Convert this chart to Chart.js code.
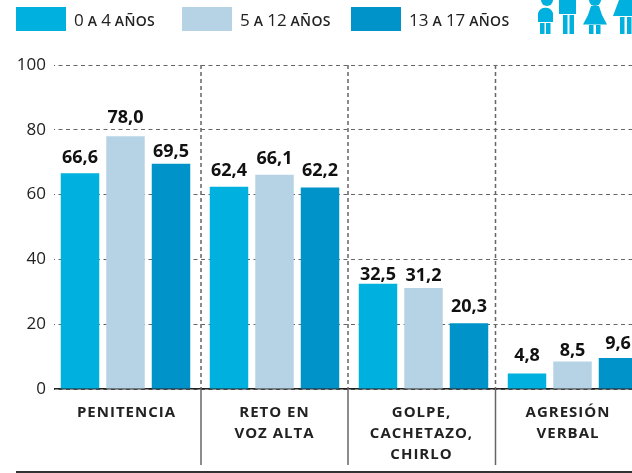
<!DOCTYPE html>
<html lang="es">
<head>
<meta charset="utf-8">
<title>Métodos de disciplina por edad</title>
<script src="https://cdn.jsdelivr.net/npm/chart.js@4"></script>
<style>
  html, body { margin: 0; padding: 0; width: 632px; height: 473px; overflow: hidden; background: #fff; }
  #wrap { position: relative; width: 632px; height: 473px; overflow: hidden; }
  canvas { position: absolute; left: 0; top: 0; }
  .swatch { position: absolute; top: 7px; width: 50px; height: 24px; }
  .legend-text { position: absolute; top: 8px; font: 400 17px "Open Sans", sans-serif; color: #222; white-space: nowrap; }
  .legend-text span { font-size: 14px; font-weight: 600; text-transform: uppercase; letter-spacing: 0.3px; }
  #icons { position: absolute; left: 530px; top: 0; }
  #rule { position: absolute; left: 16px; top: 471px; width: 616px; height: 2px; background: #333; }
</style>
</head>
<body>
<div id="wrap">
  <canvas id="chart" width="647" height="473"></canvas>
  <div id="legend"></div>
  <svg id="icons" width="102" height="34" fill="#00b0de">
    <circle cx="17" cy="0" r="6"/>
    <path d="M8 13a8 8 0 0 1 15 0v9H8z"/>
    <rect x="10" y="23" width="4.5" height="11"/><rect x="16" y="23" width="4.5" height="11"/>
    <rect x="29" y="0" width="17" height="14"/>
    <rect x="33" y="15" width="4.5" height="19"/><rect x="39.5" y="15" width="4.5" height="19"/>
    <circle cx="65" cy="0" r="6"/>
    <path d="M61 6h8l3 9 5 9.500H53l5-9.500z"/>
    <rect x="59" y="25" width="4.500" height="9"/><rect x="66" y="25" width="4.500" height="9"/>
    <path d="M89 0h13v16H83z"/>
    <rect x="90" y="17" width="4.500" height="17"/><rect x="97" y="17" width="4.500" height="17"/>
  </svg>
  <div id="rule"></div>
</div>
<script>
const categories = ["PENITENCIA", ["RETO EN", "VOZ ALTA"], ["GOLPE,", "CACHETAZO,", "CHIRLO"], ["AGRESIÓN", "VERBAL"]];
const seriesNames = ["0 a 4 años", "5 a 12 años", "13 a 17 años"];
const edad0a4 = [66.6, 62.4, 32.5, 4.8];
const edad5a12 = [78.0, 66.1, 31.2, 8.5];
const edad13a17 = [69.5, 62.2, 20.3, 9.6];
const colors = ["#00b0de", "#b5d3e5", "#0093c9"];

// leyenda arriba: numeros grandes y letras en versalitas, no se puede con la de Chart.js
const legendEl = document.getElementById("legend");
const swatchX = [16, 182, 351];
seriesNames.forEach((name, i) => {
  const sw = document.createElement("div");
  sw.className = "swatch";
  sw.style.left = swatchX[i] + "px";
  sw.style.background = colors[i];
  legendEl.appendChild(sw);
  const txt = document.createElement("div");
  txt.className = "legend-text";
  txt.style.left = (swatchX[i] + 58) + "px";
  name.split(/(\d+)/).forEach(part => {
    if (/\d/.test(part) || part.trim() === "") {
      txt.appendChild(document.createTextNode(part));
    } else {
      const sp = document.createElement("span");
      sp.textContent = part;
      txt.appendChild(sp);
    }
  });
  legendEl.appendChild(txt);
});

// en el original las etiquetas estan puestas a mano, cada una con su separacion
const labelGaps = [[10, 11, 3.5, 12], [13, 11, 7, 5], [7, 11, 11, 9]];
// separadores y rotulos no caen justo en el centro de cada grupo
const sepNudge = [1, -1, -2.5];
const tickNudge = [1, 0, -2, -4.5];

const chartExtras = {
  id: "chartExtras",
  beforeDraw(chart) {
    chart.scales.x.getLabelItems().forEach((item, i) => {
      item.options.translation[0] += tickNudge[i];
    });
  },
  beforeDatasetsDraw(chart) {
    const { ctx, chartArea, scales } = chart;
    ctx.save();
    ctx.strokeStyle = "#666";
    ctx.lineWidth = 1.5;
    sepNudge.forEach((nudge, i) => {
      const x = scales.x.getPixelForValue(i + 0.5) + nudge;
      ctx.setLineDash([4, 3]);
      ctx.beginPath();
      ctx.moveTo(x, chartArea.top);
      ctx.lineTo(x, chartArea.bottom);
      ctx.stroke();
      ctx.setLineDash([]);
      ctx.beginPath();
      ctx.moveTo(x, chartArea.bottom);
      ctx.lineTo(x, chartArea.bottom + 76);
      ctx.stroke();
    });
    ctx.restore();
  },
  afterDatasetsDraw(chart) {
    const ctx = chart.ctx;
    ctx.save();
    ctx.font = '700 18px "Open Sans", sans-serif';
    ctx.fillStyle = "#111";
    ctx.textAlign = "center";
    ctx.textBaseline = "alphabetic";
    chart.data.datasets.forEach((ds, i) => {
      chart.getDatasetMeta(i).data.forEach((bar, j) => {
        ctx.fillText(ds.data[j].toFixed(1).replace(".", ","), bar.x, bar.y - labelGaps[i][j]);
      });
    });
    ctx.restore();
    // los rotulos del eje x se dibujan despues de las barras (z: 1), van espaciados
    ctx.letterSpacing = "1px";
  },
  afterDraw(chart) {
    const { ctx, chartArea } = chart;
    ctx.letterSpacing = "0px";
    // las lineas horizontales empiezan un poco despues del borde
    ctx.fillStyle = "#fff";
    ctx.fillRect(chartArea.left - 5, chartArea.top - 2, 8, chartArea.height + 4);
  }
};

const datasetsList = seriesNames.map((name, i) => ({
  label: name,
  data: [edad0a4, edad5a12, edad13a17][i],
  backgroundColor: colors[i],
  categoryPercentage: 0.916,
  barPercentage: 0.846
}));

new Chart(document.getElementById("chart").getContext("2d"), {
  type: "bar",
  data: { labels: categories, datasets: datasetsList },
  plugins: [chartExtras],
  options: {
    responsive: false,
    animation: false,
    layout: { padding: { top: 65, left: 0, right: 0, bottom: 0 } },
    plugins: { legend: { display: false }, tooltip: { enabled: false } },
    scales: {
      x: {
        afterFit(scale) { scale.height = 84; },
        border: { color: "#222", width: 1.5 },
        grid: { display: false },
        ticks: {
          z: 1,
          padding: 5,
          autoSkip: false,
          maxRotation: 0,
          color: "#222",
          font: { family: "Open Sans", size: 15, weight: "700", lineHeight: 1.4 }
        }
      },
      y: {
        min: 0,
        max: 100,
        afterFit(scale) { scale.width = 51; },
        border: { display: false, dash: [4, 3.5] },
        grid: { color: "#666", lineWidth: 1, drawTicks: false },
        ticks: {
          stepSize: 20,
          padding: 5,
          color: "#222",
          font: { family: "Open Sans", size: 17 }
        }
      }
    }
  }
});
</script>
</body>
</html>
